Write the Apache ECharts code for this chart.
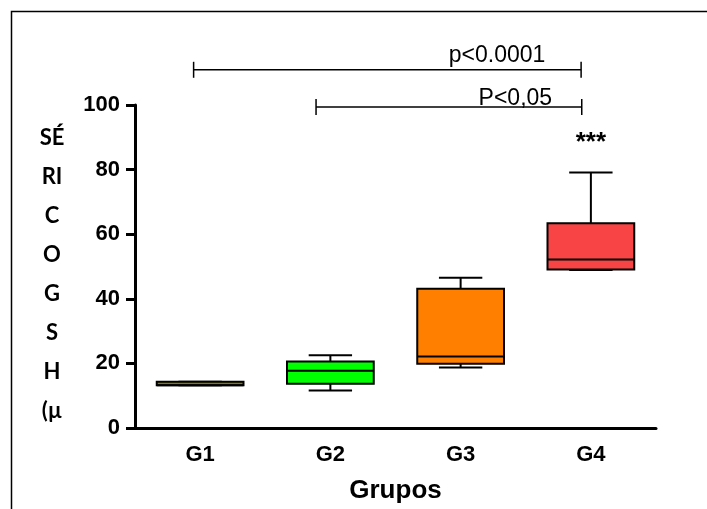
<!DOCTYPE html>
<html><head><meta charset="utf-8">
<script src="https://cdn.jsdelivr.net/npm/echarts@6/dist/echarts.min.js"></script>
<style>html,body{margin:0;padding:0;background:#fff}#c{width:707px;height:509px}</style>
</head><body><div id="c"></div>
<script>
// ---- data ----
const categories = ['G1', 'G2', 'G3', 'G4'];
const mins    = [13.2, 11.6, 18.7, 48.9];
const q1s     = [13.2, 13.7, 19.9, 49.1];
const medians = [13.2, 17.7, 22.1, 52.2];
const q3s     = [14.3, 20.6, 43.1, 63.4];
const maxs    = [14.3, 22.5, 46.5, 79.1];
const boxColors = ['#808000', '#00ff00', '#ff8000', '#f84444'];
const yTickValues = [0, 20, 40, 60, 80, 100];
const yAxisNameLines = ['SÉ', 'RI', 'C', 'O', 'G', 'S', 'H', '(µ'];
const xAxisName = 'Grupos';
// significance brackets (in category units / y units)
const bracketFrom   = [-0.05, 0.89];
const bracketTo     = [2.925, 2.93];
const bracketLevel  = [110.9, 99.4];
const bracketLabels = ['p<0.0001', 'P<0,05'];
const bracketLabelX = [2.28, 2.42];
const bracketLabelY = [115.4, 102.0];
const starLabels = ['***'];
const starGroup  = [3];
const starLevel  = [88.3];

const chart = echarts.init(document.getElementById('c'), null, {renderer: 'canvas'});

const boxData = categories.map((c, i) => [i, mins[i], q1s[i], medians[i], q3s[i], maxs[i]]);
const annData = bracketLabels.map((l, i) => ({kind: 'bracket', i}));
starLabels.forEach((s, i) => annData.push({kind: 'star', i}));

const tickFont = {fontFamily: '"Liberation Sans", Arial, sans-serif', fontWeight: 'bold', fontSize: 22, color: '#000'};

chart.setOption({
  animation: false,
  backgroundColor: '#fff',
  grid: {left: 135, top: 105, right: 51, bottom: 81, containLabel: false},
  xAxis: [{
    type: 'category', data: categories, boundaryGap: true,
    axisLine: {lineStyle: {color: '#000', width: 3}},
    axisTick: {alignWithLabel: true, length: 9, lineStyle: {color: '#000', width: 3}},
    axisLabel: Object.assign({margin: 16}, tickFont),
    splitLine: {show: false},
    name: xAxisName, nameLocation: 'middle', nameGap: 50,
    nameTextStyle: {fontFamily: '"Liberation Sans", Arial, sans-serif', fontWeight: 'bold', fontSize: 26, color: '#000'}
  }, {
    type: 'value', min: -0.5, max: 3.5, show: false
  }],
  yAxis: {
    type: 'value', min: 0, max: 100, interval: 20,
    axisLine: {show: true, onZero: false, lineStyle: {color: '#000', width: 3}},
    axisTick: {show: true, length: 9, lineStyle: {color: '#000', width: 3}},
    axisLabel: Object.assign({margin: 15, formatter: v => yTickValues.includes(v) ? String(v) : ''}, tickFont),
    splitLine: {show: false}
  },
  graphic: [
    {type: 'polyline', silent: true, shape: {points: [[11.5, 520], [11.5, 11.5], [720, 11.5]]},
     style: {stroke: '#000', lineWidth: 1.5, fill: null}},
    {type: 'text', silent: true, x: 52, y: 118,
     style: {text: yAxisNameLines.join('\n'), fill: '#000', font: 'bold 22px Lato, "Open Sans", sans-serif',
             lineHeight: 39, align: 'center', verticalAlign: 'top'}}
  ],
  series: [{
    type: 'custom', name: 'box', xAxisIndex: 0, yAxisIndex: 0, clip: false,
    data: boxData,
    encode: {x: 0, y: [1, 2, 3, 4, 5]},
    renderItem: function (params, api) {
      const i = api.value(0);
      const xc = api.coord([i, 0])[0];
      const band = api.size([1, 0])[0];
      const half = band * 0.333;
      const cap = half / 2;
      const y = k => api.coord([i, api.value(k)])[1];
      const yMin = y(1), yQ1 = y(2), yMed = y(3), yQ3 = y(4), yMax = y(5);
      const ls = {stroke: '#000', lineWidth: 2};
      return {type: 'group', children: [
        {type: 'line', shape: {x1: xc, y1: yQ3, x2: xc, y2: yMax}, style: ls},
        {type: 'line', shape: {x1: xc, y1: yQ1, x2: xc, y2: yMin}, style: ls},
        {type: 'line', shape: {x1: xc - cap, y1: yMax, x2: xc + cap, y2: yMax}, style: ls},
        {type: 'line', shape: {x1: xc - cap, y1: yMin, x2: xc + cap, y2: yMin}, style: ls},
        {type: 'rect', shape: {x: xc - half, y: yQ3, width: half * 2, height: yQ1 - yQ3},
         style: {fill: boxColors[i], stroke: '#000', lineWidth: 2}},
        {type: 'line', shape: {x1: xc - half, y1: yMed, x2: xc + half, y2: yMed}, style: ls}
      ]};
    }
  }, {
    type: 'custom', name: 'annotations', xAxisIndex: 1, yAxisIndex: 0, clip: false,
    data: annData.map((d, k) => [k]),
    renderItem: function (params, api) {
      const d = annData[params.dataIndex];
      const i = d.i;
      if (d.kind === 'bracket') {
        const p1 = api.coord([bracketFrom[i], bracketLevel[i]]);
        const p2 = api.coord([bracketTo[i], bracketLevel[i]]);
        const t = api.coord([bracketLabelX[i], bracketLabelY[i]]);
        const ls = {stroke: '#000', lineWidth: 1.5};
        return {type: 'group', children: [
          {type: 'line', shape: {x1: p1[0], y1: p1[1], x2: p2[0], y2: p2[1]}, style: ls},
          {type: 'line', shape: {x1: p1[0], y1: p1[1] - 8, x2: p1[0], y2: p1[1] + 8}, style: ls},
          {type: 'line', shape: {x1: p2[0], y1: p2[1] - 8, x2: p2[0], y2: p2[1] + 8}, style: ls},
          {type: 'text', x: t[0], y: t[1], style: {text: bracketLabels[i], fill: '#000',
            font: '23px "Liberation Sans", Arial, sans-serif', align: 'center', verticalAlign: 'middle'}}
        ]};
      }
      const catCoord = api.coord([starGroup[i], starLevel[i]]);
      return {type: 'text', x: catCoord[0], y: catCoord[1], style: {text: starLabels[i], fill: '#000',
        font: 'bold 26px "Liberation Sans", Arial, sans-serif', align: 'center', verticalAlign: 'middle'}};
    }
  }]
});
</script>
</body></html>
